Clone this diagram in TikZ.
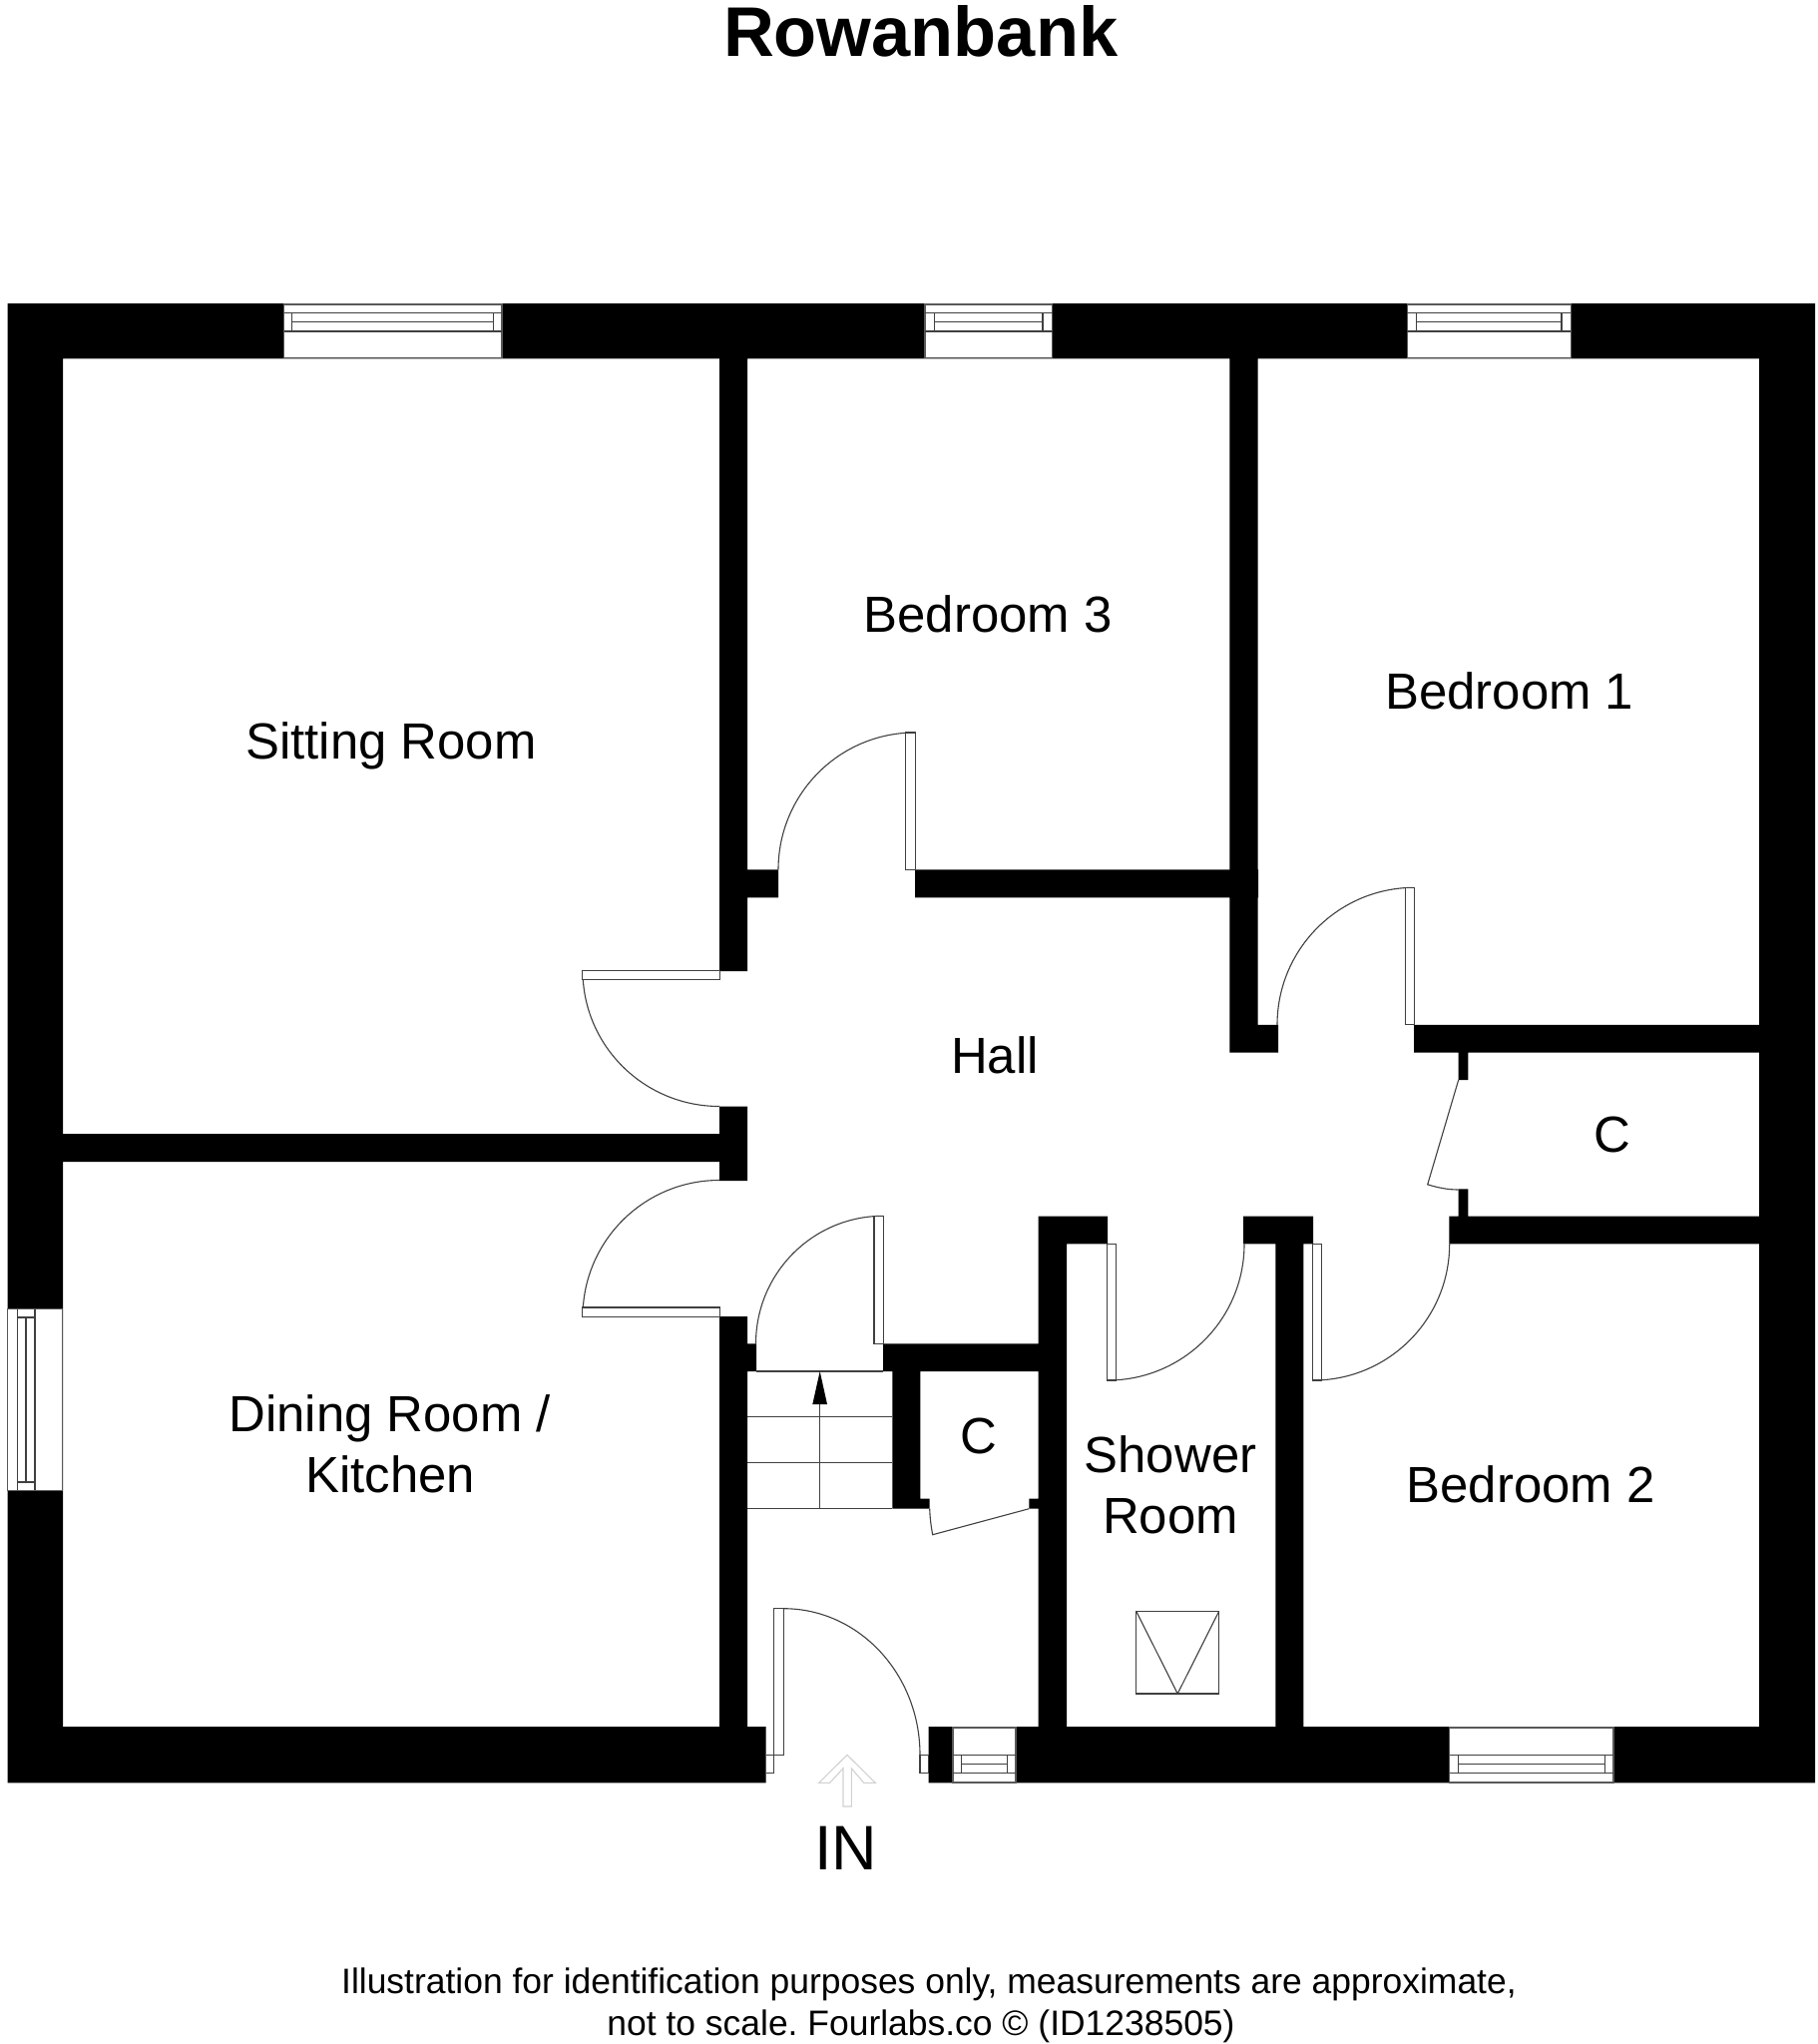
\documentclass[tikz,border=0pt]{standalone}
\usepackage{fontspec}
\setmainfont{Liberation Sans}
\usetikzlibrary{calc}
\frenchspacing
\tikzset{
  wallfill/.style={fill=black,draw=none},
  fine/.style={draw=black!75,line width=1.1pt},
  leaf/.style={fine,fill=white},
  glass/.style={draw=black!65,line width=1.2pt,fill=white},
  room/.style={anchor=base,align=center,inner sep=0pt,font=\fontsize{50.9}{61.5}\selectfont},
  note/.style={anchor=base,inner sep=0pt,font=\fontsize{35.45}{42}\selectfont},
}
\newcommand\doorarc[3]{\draw[fine] (#2) .. controls ($(#2)+.5523*(#3)-.5523*(#1)$) and ($(#3)+.5523*(#2)-.5523*(#1)$) .. (#3);}
% x1 x2 postL postR ytop s1 s2 s3 ybot
\newcommand\hwin[9]{%
  \draw[glass] (#1,#5) rectangle (#2,#9);
  \draw[fine] (#1,#6) -- (#2,#6) (#1,#8) -- (#2,#8) (#3,#6) -- (#3,#8) (#4,#6) -- (#4,#8) (#3,#7) -- (#4,#7);}
\begin{document}
\begin{tikzpicture}[x=1pt,y=-1pt]
\useasboundingbox[fill=white] (0,0) rectangle (1821,2048);
% walls
\fill[wallfill]
  (7.5,304) rectangle (1819,359.3)
  (7.5,304) rectangle (63,1786.3)
  (1763,304) rectangle (1819,1786.3)
  (7.5,1730) rectangle (767.7,1786.3)
  (930.7,1730) rectangle (1819,1786.3)
  (721,359) rectangle (749,973)
  (721,1108.5) rectangle (749,1183)
  (721,1319) rectangle (749,1730)
  (63,1136) rectangle (749,1164)
  (721,871.3) rectangle (780,899.3)
  (917,871.3) rectangle (1261,899.3)
  (1232.3,359) rectangle (1260.7,1054.6)
  (1232.3,1026.8) rectangle (1281,1054.6)
  (1417,1026.8) rectangle (1763,1054.6)
  (1461.7,1054) rectangle (1471.3,1082)
  (1461.7,1191.4) rectangle (1471.3,1219)
  (1452.3,1218.6) rectangle (1763,1246.4)
  (1040.7,1218.6) rectangle (1110,1246.4)
  (1246,1218.6) rectangle (1316,1246.4)
  (1040.7,1218.6) rectangle (1069,1730)
  (1278.3,1246) rectangle (1306.3,1730)
  (721,1346.3) rectangle (758,1374)
  (885,1346.3) rectangle (1069,1374)
  (894.3,1374) rectangle (922.3,1511.7)
  (894.3,1501.7) rectangle (931.7,1511.7)
  (1031.3,1501.7) rectangle (1069,1511.7);
% windows
\hwin{284.5}{503}{292.5}{494.6}{305}{313.3}{322.7}{332}{358.7}
\hwin{927}{1054.5}{936.6}{1045}{305}{313.3}{322.7}{332}{358.7}
\hwin{1410.3}{1574.3}{1419.3}{1565}{305}{313.3}{322.7}{332}{358.7}
\hwin{955}{1018}{963.3}{1009.3}{1731}{1758.3}{1767.3}{1776.3}{1786}
\hwin{1452.6}{1617}{1461.8}{1608.4}{1731}{1758.3}{1767.3}{1776.3}{1786}
\draw[glass] (7.5,1311.7) rectangle (62.5,1493.3);
\draw[fine] (17.3,1311.7) -- (17.3,1493.3) (35,1311.7) -- (35,1493.3)
  (17.3,1320) -- (35,1320) (17.3,1485) -- (35,1485) (26,1320) -- (26,1485);
% door arcs
\doorarc{917,871.3}{780,871.3}{917,734}
\doorarc{721,972.5}{584,972.5}{721,1108.5}
\doorarc{721,1319.3}{721,1182.5}{584,1319.3}
\doorarc{885.3,1346.3}{757.5,1346.3}{885.3,1218.3}
\doorarc{1417.5,1026.8}{1280,1026.8}{1417.5,889.3}
\doorarc{1110,1246.4}{1247,1246.4}{1110,1383}
\doorarc{1316,1246.4}{1452.7,1246.4}{1316,1383}
\doorarc{785.3,1758.3}{785.3,1611.7}{922,1758.3}
% door leaves
\draw[leaf] (907.7,734) rectangle (917.3,871.5);
\draw[leaf] (583.7,972.3) rectangle (721.3,981.7);
\draw[leaf] (583.7,1310) rectangle (721.3,1319.3);
\draw[leaf] (876,1218.3) rectangle (885.3,1346.3);
\draw[leaf] (1408.3,889.3) rectangle (1417.7,1026.8);
\draw[leaf] (1109.3,1246.4) rectangle (1118.7,1383);
\draw[leaf] (1315.3,1246.4) rectangle (1324.7,1383);
\draw[leaf] (775.7,1611.7) rectangle (785.3,1758.3);
% entrance jambs
\draw[fine] (767.7,1758.3) -- (775.7,1758.3) (767.7,1776.3) -- (775.7,1776.3) (775.7,1758.3) -- (775.7,1776.3);
\draw[leaf] (922,1758.3) rectangle (930.7,1776.3);
% cupboard doors
\draw[fine] (1461.7,1082) -- (1430.7,1186.8) .. controls (1441,1190) and (1451,1192) .. (1461.7,1192);
\draw[fine] (931.7,1511.7) .. controls (932,1520) and (933,1529) .. (934.7,1537.7) -- (1031.3,1511.7);
% stairs
\draw[fine] (758,1374) -- (885,1374)
  (749,1419.7) -- (894.3,1419.7)
  (749,1465.7) -- (894.3,1465.7)
  (749,1511.7) -- (894.3,1511.7)
  (821.7,1511.7) -- (821.7,1400);
\fill[black] (821.7,1374) -- (829,1407) -- (814.3,1407) -- cycle;
% shower vent
\draw[fine] (1138.7,1614.3) rectangle (1221.7,1697);
\draw[fine] (1138.7,1614.3) -- (1180.2,1697) -- (1221.7,1614.3);
% entry arrow
\draw[draw=black!18,line width=1.1pt] (849,1758.3) -- (877.3,1786.3) -- (865.7,1786.3) -- (853.3,1771.7) -- (853.3,1810) -- (845,1810) -- (845,1771.7) -- (831.7,1786.3) -- (820.7,1786.3) -- cycle;
% text
\node[anchor=base,inner sep=0pt,font=\fontsize{70.4}{80}\selectfont\bfseries] (title) at (922.6,56) {Rowanbank};
\node[room] (sitting) at (392,760.5) {Sitting Room};
\node[room] (bed3) at (990,633.3) {Bedroom 3};
\node[room] (bed1) at (1512.7,710) {Bedroom 1};
\node[room] (hall) at (997,1075.7) {Hall};
\node[room] (c1) at (1616.3,1154.7) {C};
\node[room] (c2) at (980.7,1456) {C};
\node[room] (shower1) at (1173,1475.5) {Shower};
\node[room] (shower2) at (1173,1536.5) {Room};
\node[room] (bed2) at (1534,1505) {Bedroom 2};
\node[room] (din1) at (390.6,1434.5) {Dining Room /};
\node[room] (din2) at (391.3,1495.7) {Kitchen};
\node[anchor=base,inner sep=0pt,font=\fontsize{63}{70}\selectfont] (in) at (847.5,1873) {IN};
\node[note] (foot1) at (931,1997.5) {Illustration for identification purposes only, measurements are approximate,};
\node[note] (foot2) at (923,2039.5) {not to scale. Fourlabs.co © (ID1238505)};
\end{tikzpicture}
\end{document}
